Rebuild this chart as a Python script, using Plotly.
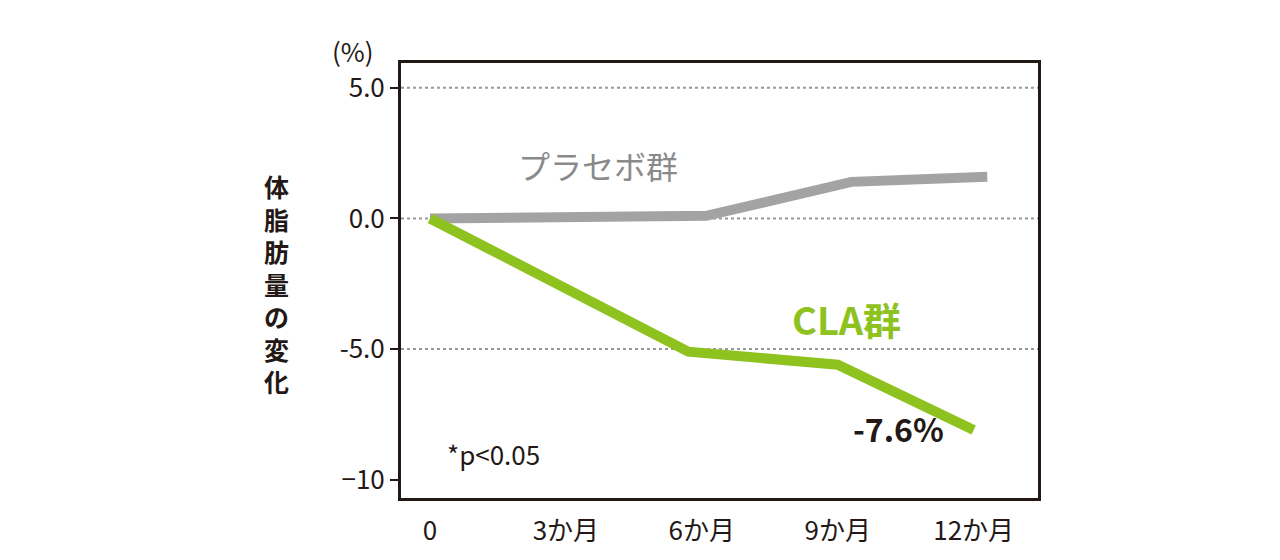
import plotly.graph_objects as go

# data (x in months)
placebo_x = [0, 6.1, 9.3, 12.3]
placebo_y = [0.0, 0.1, 1.4, 1.6]
cla_x = [0, 5.7, 9.0, 12.0]
cla_y = [0.0, -5.1, -5.6, -8.1]
x_ticks = [0, 3, 6, 9, 12]
x_labels = ["0", "3か月", "6か月", "9か月", "12か月"]
y_ticks = [5, 0, -5, -10]
y_labels = ["5.0", "0.0", "-5.0", "−10"]

FONT = "Noto Sans CJK JP"
GREEN = "#8dc21f"
GRAY = "#a3a3a3"

L, R, T, B = 393, 1030, 55, 490

fig = go.Figure()
fig.add_trace(go.Scatter(x=placebo_x, y=placebo_y, mode="lines",
                         line=dict(color=GRAY, width=10), hoverinfo="skip"))
fig.add_trace(go.Scatter(x=cla_x, y=cla_y, mode="lines",
                         line=dict(color=GREEN, width=10), hoverinfo="skip"))

# dotted grid lines
for v in [5, 0, -5]:
    fig.add_hline(y=v, line=dict(color="#999999", width=2, dash="dot"), layer="below")

fig.update_layout(
    width=1280, height=560,
    plot_bgcolor="white", paper_bgcolor="white",
    showlegend=False,
    margin=dict(l=L, r=1280 - R, t=T, b=560 - B, autoexpand=False),
    font=dict(family=FONT, size=26, color="#231815"),
    xaxis=dict(range=[-0.64, 13.42], tickvals=x_ticks, ticktext=x_labels,
               showgrid=False, zeroline=False, showline=True, mirror=True,
               linecolor="#231815", linewidth=3, ticks="", ticklabelstandoff=8),
    yaxis=dict(range=[-10.7, 5.95], tickvals=y_ticks, ticktext=y_labels,
               showgrid=False, zeroline=False, showline=True, mirror=True,
               linecolor="#231815", linewidth=3, ticks="outside", ticklen=8,
               tickwidth=2, tickcolor="#231815"),
)

ann = [
    dict(x=345, y=42, text="(%)", font=dict(size=26)),
    dict(x=268, y=275, text="<b>" + "<br>".join("体脂肪量の変化") + "</b>",
         font=dict(size=25)),
    dict(x=590, y=157, text="プラセボ群", font=dict(size=32, color="#8a8a8a")),
    dict(x=838, y=310, text="<b>CLA群</b>", font=dict(size=38, color=GREEN)),
    dict(x=890, y=420, text="<b>-7.6%</b>", font=dict(size=32)),
    dict(x=485, y=445, text="*p<0.05", font=dict(size=26)),
]
for a in ann:
    fig.add_annotation(x=(a["x"] - L) / (R - L), y=(B - a["y"]) / (B - T),
                       xref="paper", yref="paper",
                       text=a["text"], showarrow=False, font=a["font"],
                       xanchor="center", yanchor="middle")

fig.write_html("out.html")
